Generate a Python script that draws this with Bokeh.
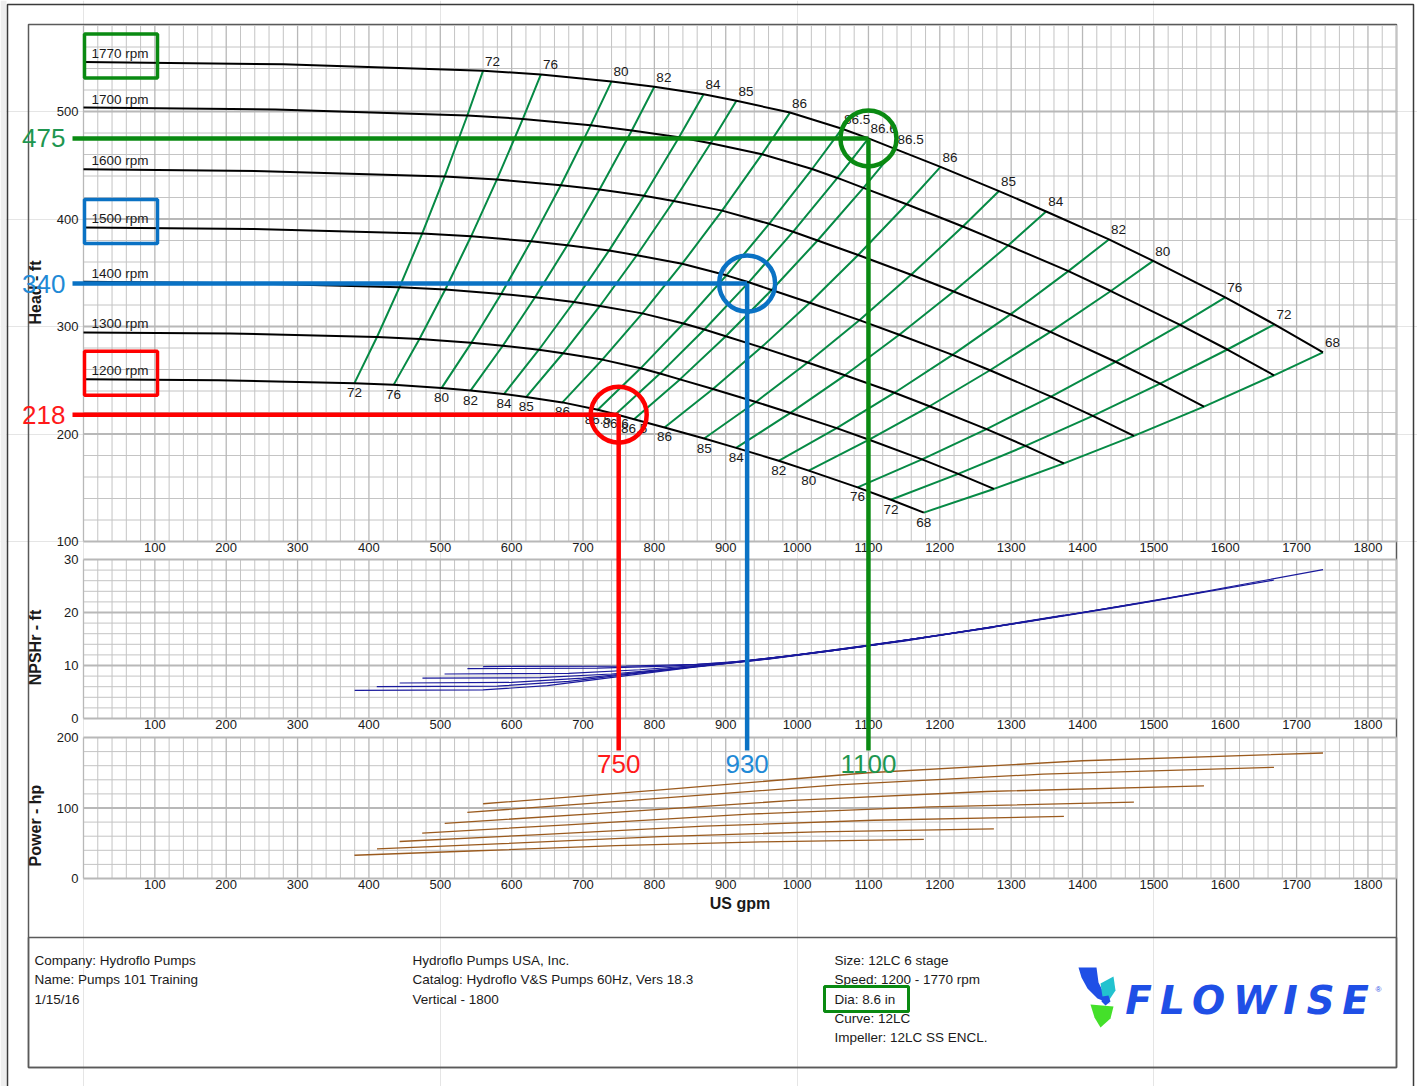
from bokeh.core.properties import value
from bokeh.embed import file_html
from bokeh.models import FixedTicker, LinearAxis, Range1d
from bokeh.plotting import figure
from bokeh.resources import INLINE

# ---------------------------------------------------------------------------
# Pump performance data: 12LC 6 stage, variable speed
# ---------------------------------------------------------------------------
SPEEDS = [1200, 1300, 1400, 1500, 1600, 1700, 1770]

# Efficiency (%) of the iso-efficiency points; flow/head points 2..19 of
# every speed curve lie on these lines.
EFF_LABELS = ["72", "76", "80", "82", "84", "85", "86", "86.5", "86.6",
              "86.5", "86", "85", "84", "82", "80", "76", "72", "68"]

FLOW_1200 = [0, 189.8, 379.7, 434.6, 501.7, 542.4, 589.2, 620.3, 671.2, 720.7,
             745.8, 771.5, 814.2, 869.8, 914.6, 974.2, 1016.3, 1084.8, 1131.5, 1177.6]
HEAD_1200 = [251.0, 250.0, 247.3, 245.7, 242.7, 240.4, 237.2, 234.4, 229.4, 222.5,
             218.3, 213.7, 206.1, 195.8, 187.1, 175.1, 165.9, 150.3, 138.8, 126.9]
FLOW_1300 = [0, 205.6, 411.3, 470.8, 543.5, 587.6, 638.2, 672.0, 727.1, 780.7,
             807.9, 835.8, 882.1, 942.3, 990.8, 1055.4, 1101.0, 1175.1, 1225.8, 1275.8]
HEAD_1300 = [294.5, 293.5, 290.2, 288.3, 284.8, 282.1, 278.4, 275.1, 269.2, 261.1,
             256.2, 250.8, 241.9, 229.8, 219.6, 205.5, 194.7, 176.4, 162.9, 148.9]
FLOW_1400 = [0, 221.5, 442.9, 507.0, 585.3, 632.8, 687.3, 723.7, 783.1, 840.8,
             870.1, 900.1, 949.9, 1014.8, 1067.0, 1136.6, 1185.6, 1265.5, 1320.1, 1373.9]
HEAD_1400 = [341.6, 340.3, 336.6, 334.4, 330.3, 327.2, 322.8, 319.1, 312.2, 302.8,
             297.2, 290.9, 280.6, 266.5, 254.6, 238.4, 225.8, 204.6, 188.9, 172.7]
FLOW_1500 = [0, 237.3, 474.6, 543.2, 627.1, 678.0, 736.4, 775.4, 839.0, 900.9,
             932.2, 964.4, 1017.8, 1087.3, 1143.2, 1217.8, 1270.3, 1355.9, 1414.4, 1472.0]
HEAD_1500 = [392.1, 390.7, 386.4, 383.9, 379.2, 375.6, 370.6, 366.3, 358.4, 347.6,
             341.1, 334.0, 322.1, 305.9, 292.3, 273.6, 259.3, 234.8, 216.9, 198.2]
FLOW_1600 = [0, 253.1, 506.2, 579.4, 668.9, 723.2, 785.5, 827.1, 894.9, 960.9,
             994.3, 1028.7, 1085.6, 1159.8, 1219.4, 1299.0, 1355.0, 1446.3, 1508.7, 1570.2]
HEAD_1600 = [446.2, 444.5, 439.6, 436.8, 431.4, 427.4, 421.6, 416.7, 407.8, 395.5,
             388.1, 380.0, 366.5, 348.1, 332.6, 311.3, 295.0, 267.2, 246.8, 225.5]
FLOW_1700 = [0, 268.9, 537.9, 615.7, 710.7, 768.4, 834.6, 878.8, 950.9, 1021.0,
             1056.5, 1093.0, 1153.5, 1232.3, 1295.7, 1380.2, 1439.7, 1536.7, 1603.0, 1668.3]
HEAD_1700 = [503.7, 501.8, 496.3, 493.1, 487.1, 482.4, 476.0, 470.5, 460.3, 446.5,
             438.2, 429.0, 413.7, 393.0, 375.4, 351.5, 333.0, 301.6, 278.6, 254.6]
FLOW_1770 = [0, 280, 560, 641, 740, 800, 869, 915, 990, 1063,
             1100, 1138, 1201, 1283, 1349, 1437, 1499, 1600, 1669, 1737]
HEAD_1770 = [546, 544, 538, 534.5, 528, 523, 516, 510, 499, 484,
             475, 465, 448.5, 426, 407, 381, 361, 327, 302, 276]

# NPSH required (ft)
NPSH_FLOW_1200 = [380, 560, 650, 750, 850, 950, 1050, 1178]
NPSH_1200 = [5.3, 5.4, 6.2, 7.9, 9.6, 11.1, 12.8, 15.2]
NPSH_FLOW_1300 = [411, 580, 680, 780, 880, 980, 1100, 1276]
NPSH_1300 = [6.0, 6.1, 7.0, 8.6, 10.1, 11.7, 13.8, 17.2]
NPSH_FLOW_1400 = [443, 600, 700, 800, 900, 1000, 1150, 1374]
NPSH_1400 = [6.7, 6.8, 7.6, 9.0, 10.4, 12.0, 14.6, 19.5]
NPSH_FLOW_1500 = [475, 640, 740, 840, 940, 1100, 1300, 1472]
NPSH_1500 = [7.6, 7.7, 8.4, 9.6, 10.9, 13.7, 17.8, 21.6]
NPSH_FLOW_1600 = [506, 680, 780, 880, 1000, 1200, 1400, 1570]
NPSH_1600 = [8.4, 8.5, 9.2, 10.2, 12.0, 15.7, 20.0, 23.9]
NPSH_FLOW_1700 = [538, 720, 820, 920, 1050, 1250, 1450, 1668]
NPSH_1700 = [9.4, 9.5, 9.9, 10.7, 12.8, 16.7, 21.0, 26.1]
NPSH_FLOW_1770 = [560, 760, 860, 960, 1100, 1300, 1500, 1737]
NPSH_1770 = [9.8, 9.9, 10.2, 11.2, 13.7, 17.8, 22.2, 28.1]

# Power (hp)
POWER_FLOW_1200 = [379.7, 542.4, 745.8, 949.2, 1177.6]
POWER_1200 = [33.0, 39.0, 46.7, 52.0, 55.5]
POWER_FLOW_1300 = [411.3, 587.6, 807.9, 1028.2, 1275.8]
POWER_1300 = [42.0, 49.5, 59.4, 66.2, 70.5]
POWER_FLOW_1400 = [442.9, 632.8, 870.1, 1107.3, 1373.9]
POWER_1400 = [52.5, 61.9, 74.2, 82.6, 88.1]
POWER_FLOW_1500 = [474.6, 678.0, 932.2, 1186.4, 1472.0]
POWER_1500 = [64.5, 76.1, 91.3, 101.6, 108.3]
POWER_FLOW_1600 = [506.2, 723.2, 994.3, 1265.5, 1570.2]
POWER_1600 = [78.3, 92.3, 110.8, 123.4, 131.5]
POWER_FLOW_1700 = [537.9, 768.4, 1056.5, 1344.6, 1668.3]
POWER_1700 = [93.9, 110.7, 132.9, 148.0, 157.7]
POWER_FLOW_1770 = [560, 800, 1100, 1400, 1737]
POWER_1770 = [106, 125, 150, 167, 178]

# Duty points picked out on the chart
OP_SPEED = [1200, 1500, 1770]
OP_FLOW = [750, 930, 1100]
OP_HEAD = [218, 340, 475]
OP_LINE_COLOR = ["#ff0000", "#0a72c4", "#0a8a12"]
OP_TEXT_COLOR = ["#ff1a1a", "#1f8ad6", "#1e9650"]

X_TICKS = [100, 200, 300, 400, 500, 600, 700, 800, 900, 1000,
           1100, 1200, 1300, 1400, 1500, 1600, 1700, 1800]
HEAD_TICKS = [100, 200, 300, 400, 500]
NPSH_TICKS = [0, 10, 20, 30]
POWER_TICKS = [0, 100, 200]

FOOTER_LEFT = ["Company: Hydroflo Pumps", "Name: Pumps 101 Training", "1/15/16"]
FOOTER_MID = ["Hydroflo Pumps USA, Inc.",
              "Catalog: Hydroflo V&S Pumps 60Hz, Vers 18.3", "Vertical - 1800"]
FOOTER_RIGHT = ["Size: 12LC 6 stage", "Speed: 1200 - 1770 rpm", "Dia: 8.6 in",
                "Curve: 12LC", "Impeller: 12LC  SS ENCL."]

FLOWS = dict(zip(SPEEDS, [FLOW_1200, FLOW_1300, FLOW_1400, FLOW_1500,
                          FLOW_1600, FLOW_1700, FLOW_1770]))
HEADS = dict(zip(SPEEDS, [HEAD_1200, HEAD_1300, HEAD_1400, HEAD_1500,
                          HEAD_1600, HEAD_1700, HEAD_1770]))
NPSH_FLOWS = [NPSH_FLOW_1200, NPSH_FLOW_1300, NPSH_FLOW_1400, NPSH_FLOW_1500,
              NPSH_FLOW_1600, NPSH_FLOW_1700, NPSH_FLOW_1770]
NPSH_VALUES = [NPSH_1200, NPSH_1300, NPSH_1400, NPSH_1500,
               NPSH_1600, NPSH_1700, NPSH_1770]
POWER_FLOWS = [POWER_FLOW_1200, POWER_FLOW_1300, POWER_FLOW_1400, POWER_FLOW_1500,
               POWER_FLOW_1600, POWER_FLOW_1700, POWER_FLOW_1770]
POWER_VALUES = [POWER_1200, POWER_1300, POWER_1400, POWER_1500,
                POWER_1600, POWER_1700, POWER_1770]

# ---------------------------------------------------------------------------
# Page geometry (pixels).  The plot frame covers the whole sheet; the three
# panels are stacked inside it, each with its own y range.
# ---------------------------------------------------------------------------
PAGE_W, PAGE_H = 1417, 1086
GRID_L, GRID_R = 83, 1396
GPM_MAX = 1840
X_PX = (GRID_R - GRID_L) / GPM_MAX

# (value at top, value at bottom, pixel row of top, pixel row of bottom)
HEAD_P = (580, 100, 25, 541)
NPSH_P = (30, 0, 559, 718)
POWER_P = (200, 0, 737, 878)


def px_per_unit(panel):
    return (panel[3] - panel[2]) / (panel[0] - panel[1])


def page_range(panel):
    s = px_per_unit(panel)
    return Range1d(panel[1] - (PAGE_H - panel[3]) / s, panel[0] + panel[2] / s)


def to_head(py):
    return HEAD_P[0] - (py - HEAD_P[2]) / px_per_unit(HEAD_P)


def to_gpm(px):
    return (px - GRID_L) / X_PX


FONT = "Liberation Sans"
TXT = "#1a1a1a"

p = figure(width=PAGE_W, height=PAGE_H, output_backend="svg", toolbar_location=None,
           x_range=Range1d(to_gpm(0), to_gpm(PAGE_W)), y_range=page_range(HEAD_P),
           x_axis_location=None, y_axis_location=None,
           min_border_left=0, min_border_right=0, min_border_top=0, min_border_bottom=0,
           background_fill_color="white", border_fill_color="white")
p.outline_line_color = None
p.extra_y_ranges = {"npsh": page_range(NPSH_P), "power": page_range(POWER_P)}

# --- sheet edge and page frames ---------------------------------------------
p.quad(left=[to_gpm(0)], right=[to_gpm(6)], top=[to_head(0)], bottom=[to_head(PAGE_H)],
       fill_color="#eeeeee", line_color=None)
p.quad(left=[to_gpm(7)], right=[to_gpm(1413)], top=[to_head(4)], bottom=[to_head(1092)],
       fill_color=None, line_color="#3a3a3a", line_width=1.5)
p.quad(left=[to_gpm(28)] * 2, right=[to_gpm(1396)] * 2,
       top=[to_head(24), to_head(937)], bottom=[to_head(1067)] * 2,
       fill_color=None, line_color="#5a5a5a", line_width=1.5)

# --- panel grids ------------------------------------------------------------
GRID_MINOR = "#c4c4c4"
GRID_MAJOR = "#b8b8b8"


def draw_grid(panel, rname, step):
    top, bot = panel[0], panel[1]
    vx = list(range(0, GPM_MAX + 1, 20))
    for major in (False, True):
        xs = [x for x in vx if (x % 100 == 0) == major]
        p.segment(x0=xs, x1=xs, y0=[bot] * len(xs), y1=[top] * len(xs),
                  y_range_name=rname, line_color=GRID_MAJOR if major else GRID_MINOR,
                  line_width=1.3 if major else 1)
        n = int(round((top - bot) / step))
        ys = [bot + i * step for i in range(n + 1)
              if ((bot + i * step) % (5 * step) == 0) == major]
        p.segment(x0=[0] * len(ys), x1=[GPM_MAX] * len(ys), y0=ys, y1=ys,
                  y_range_name=rname, line_color=GRID_MAJOR if major else GRID_MINOR,
                  line_width=1.8 if major else 1)


draw_grid(HEAD_P, "default", 20)
draw_grid(NPSH_P, "npsh", 2)
draw_grid(POWER_P, "power", 20)

# --- axes (pinned inside the sheet) ------------------------------------------


def style_axis(ax, standoff):
    ax.axis_line_color = None
    ax.major_tick_line_color = None
    ax.minor_tick_line_color = None
    ax.major_tick_out = 0
    ax.major_tick_in = 0
    ax.major_label_text_font = FONT
    ax.major_label_text_font_size = "13px"
    ax.major_label_text_color = TXT
    ax.major_label_standoff = standoff
    ax.axis_label_text_font = FONT
    ax.axis_label_text_font_size = "16px"
    ax.axis_label_text_font_style = "bold"
    ax.axis_label_text_color = TXT
    return ax


for rname, ticks, bounds, title, gap in (
        ("default", HEAD_TICKS, (83.2, 580), "Head - ft", 10),
        ("npsh", NPSH_TICKS, (-3.2, 30), "NPSHr - ft", 17),
        ("power", POWER_TICKS, (-49.6, 200), "Power - hp", 10)):
    ax = LinearAxis(y_range_name=rname, fixed_location=0, bounds=bounds,
                    ticker=FixedTicker(ticks=ticks, minor_ticks=[]), axis_label=title)
    style_axis(ax, 5).axis_label_standoff = gap
    p.add_layout(ax, "left")

for rname, base, title in (("default", HEAD_P[1], None), ("npsh", NPSH_P[1], None),
                           ("power", POWER_P[1], "US gpm")):
    ax = LinearAxis(y_range_name=rname, fixed_location=base, bounds=(0, GPM_MAX),
                    ticker=FixedTicker(ticks=X_TICKS, minor_ticks=[]), axis_label=title)
    style_axis(ax, 1).axis_label_standoff = 3
    p.add_layout(ax, "below")

# --- head curves and iso-efficiency lines ------------------------------------
EFF_GREEN = "#068a45"
n_eff = len(EFF_LABELS)
p.multi_line(xs=[[FLOWS[s][i + 2] for s in SPEEDS] for i in range(n_eff)],
             ys=[[HEADS[s][i + 2] for s in SPEEDS] for i in range(n_eff)],
             line_color=EFF_GREEN, line_width=2)
p.multi_line(xs=[FLOWS[s] for s in SPEEDS], ys=[HEADS[s] for s in SPEEDS],
             line_color="black", line_width=2)

p.text(x=[0] * len(SPEEDS), y=[HEADS[s][0] for s in SPEEDS],
       text=[f"{s} rpm" for s in SPEEDS], x_offset=8, y_offset=-1,
       text_baseline="bottom", text_align="left",
       text_font=value(FONT), text_font_size="13.5px", text_color=TXT)

p.text(x=FLOW_1770[2:], y=HEAD_1770[2:], text=EFF_LABELS, x_offset=2, y_offset=-5,
       text_baseline="bottom", text_align="left",
       text_font=value(FONT), text_font_size="13.5px", text_color=TXT)
p.text(x=FLOW_1200[2:], y=HEAD_1200[2:], text=EFF_LABELS, y_offset=5,
       text_baseline="top", text_align="center",
       text_font=value(FONT), text_font_size="13.5px", text_color=TXT)

# --- NPSHr and power curves ---------------------------------------------------
p.multi_line(xs=NPSH_FLOWS, ys=NPSH_VALUES, y_range_name="npsh",
             line_color="#1a1a9c", line_width=1.2)
p.multi_line(xs=POWER_FLOWS, ys=POWER_VALUES, y_range_name="power",
             line_color="#9a5a1e", line_width=1.3)

# --- highlighted speeds and duty points --------------------------------------
head_px = px_per_unit(HEAD_P)
p.rect(x=[to_gpm(120.5)] * 3, y=[HEADS[s][0] + 6 / head_px for s in OP_SPEED],
       width=73, height=44, width_units="screen", height_units="screen",
       fill_color=None, line_color=OP_LINE_COLOR, line_width=3.5)

leader_end = to_head(750)
n_op = len(OP_FLOW)
p.segment(x0=[to_gpm(72)] * n_op, y0=OP_HEAD, x1=OP_FLOW, y1=OP_HEAD,
          line_color=OP_LINE_COLOR, line_width=4.5, level="annotation")
p.segment(x0=OP_FLOW, y0=OP_HEAD, x1=OP_FLOW, y1=[leader_end] * n_op,
          line_color=OP_LINE_COLOR, line_width=4.5, level="annotation")
p.scatter(x=OP_FLOW, y=OP_HEAD, marker="circle", size=56, fill_color=None,
          line_color=OP_LINE_COLOR, line_width=4.5, level="annotation")
p.text(x=OP_FLOW, y=[leader_end] * n_op, text=[str(f) for f in OP_FLOW], y_offset=4,
       text_baseline="top", text_align="center", text_font=value(FONT),
       text_font_size="26px", text_color=OP_TEXT_COLOR, level="annotation")
p.text(x=[0] * n_op, y=OP_HEAD, text=[str(h) for h in OP_HEAD], x_offset=-18,
       text_baseline="middle", text_align="right", text_font=value(FONT),
       text_font_size="26px", text_color=OP_TEXT_COLOR, level="annotation")

# --- footer -------------------------------------------------------------------
for col_px, lines in ((34, FOOTER_LEFT), (412, FOOTER_MID), (834, FOOTER_RIGHT)):
    p.text(x=[to_gpm(col_px)] * len(lines),
           y=[to_head(960 + 19.25 * i) for i in range(len(lines))], text=lines,
           text_baseline="middle", text_align="left", text_font=value(FONT),
           text_font_size="13.5px", text_color=TXT)

p.quad(left=[to_gpm(824)], right=[to_gpm(908)], top=[to_head(986)],
       bottom=[to_head(1011)], fill_color=None, line_color="#0a8a12", line_width=3)

# logo mark and lettering
LOGO_BLUE = "#1f4fe6"
LOGO_SHAPES = [
    ([(1078, 967), (1096, 967), (1098, 982), (1105, 996), (1109, 1003),
      (1097, 998), (1087, 988), (1081, 977)], LOGO_BLUE),
    ([(1100, 983), (1113, 976), (1115, 990), (1109, 999), (1102, 996)], "#22c2cf"),
    ([(1090, 1004), (1113, 1006), (1110, 1018), (1100, 1027), (1094, 1017)], "#44e02a"),
    ([(1102, 996), (1108, 995), (1110, 1001), (1105, 1005), (1101, 1001)], LOGO_BLUE),
]
p.patches(xs=[[to_gpm(a) for a, _ in pts] for pts, _ in LOGO_SHAPES],
          ys=[[to_head(b) for _, b in pts] for pts, _ in LOGO_SHAPES],
          fill_color=[c for _, c in LOGO_SHAPES], line_color=None)
LOGO_WORD = list("FLOWISE")
LOGO_CENTERS = [1138, 1172, 1208, 1254, 1290, 1320, 1355]
p.text(x=[to_gpm(c) for c in LOGO_CENTERS], y=[to_head(1000)] * len(LOGO_WORD),
       text=LOGO_WORD, text_baseline="middle", text_align="center",
       text_font=value("DejaVu Sans"), text_font_style="bold italic",
       text_font_size="39px", text_color=LOGO_BLUE)
p.text(x=[to_gpm(1375)], y=[to_head(989)], text=["®"], text_baseline="middle",
       text_align="left", text_font=value(FONT), text_font_size="8px",
       text_color=LOGO_BLUE)

with open("out.html", "w") as fh:
    fh.write(file_html(p, INLINE))
